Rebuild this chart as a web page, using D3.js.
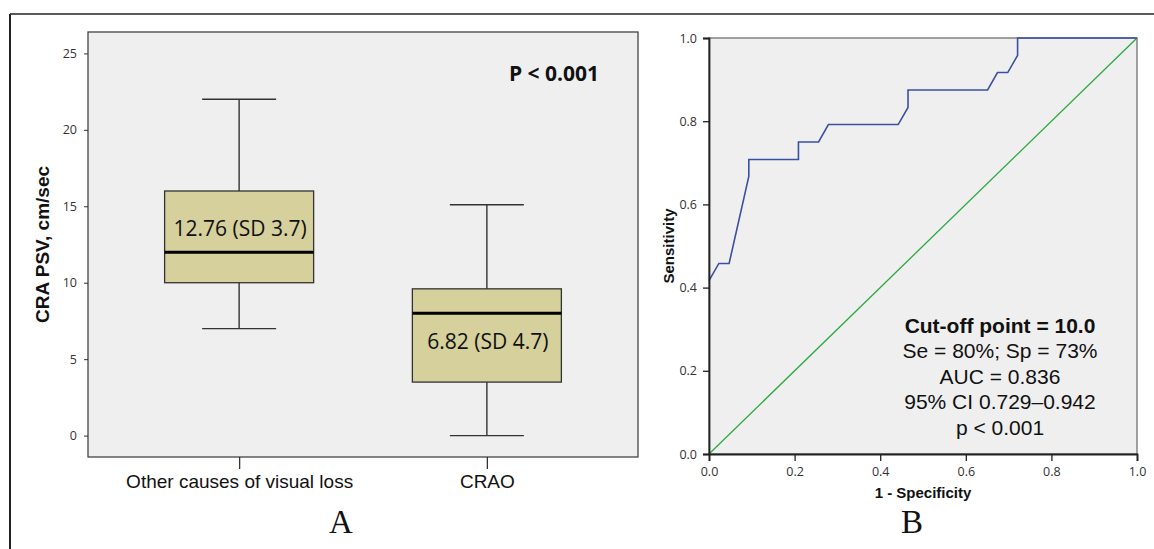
<!DOCTYPE html>
<html>
<head>
<meta charset="utf-8">
<script src="https://cdn.jsdelivr.net/npm/d3@7"></script>
<style>
  html, body { margin: 0; padding: 0; background: #fff; }
  svg { display: block; }
  .tick text { font-family: "Open Sans", sans-serif; font-size: 12.5px; fill: #333; }
</style>
</head>
<body>
<svg id="chart" width="1154" height="549"></svg>
<script>
// ---- data: panel A (box plot) ----
var groups = ['Other causes of visual loss', 'CRAO'];
var whiskerLow = [7, 0];
var q1 = [10, 3.5];
var median = [12, 8];
var q3 = [16, 9.6];
var whiskerHigh = [22, 15.1];
var boxLabels = ['12.76 (SD 3.7)', '6.82 (SD 4.7)'];
var boxTicks = [0, 5, 10, 15, 20, 25];

// ---- data: panel B (ROC) ----
var rocFpr  = [0, 0.023, 0.047, 0.093, 0.093, 0.209, 0.209, 0.256, 0.279, 0.442, 0.465, 0.465, 0.651, 0.674, 0.698, 0.721, 0.721, 1];
var rocSens = [0.417, 0.458, 0.458, 0.667, 0.708, 0.708, 0.75, 0.75, 0.792, 0.792, 0.833, 0.875, 0.875, 0.917, 0.917, 0.958, 1, 1];
var rocTicks = [0, 0.2, 0.4, 0.6, 0.8, 1.0];
var rocNotes = ['Cut-off point = 10.0', 'Se = 80%; Sp = 73%', 'AUC = 0.836', '95% CI 0.729\u20130.942', 'p < 0.001'];

var svg = d3.select('#chart');

// outer frame (top + left only visible)
svg.append('line').attr('x1', 10).attr('y1', 14).attr('x2', 1154).attr('y2', 14)
  .style('stroke', '#222').style('stroke-width', 1.5);
svg.append('line').attr('x1', 10).attr('y1', 14).attr('x2', 10).attr('y2', 549)
  .style('stroke', '#222').style('stroke-width', 2);

// ================= Panel A =================
var A = { left: 88, right: 638, top: 32, bottom: 457 };
var yA = d3.scaleLinear().domain([-1.4, 26.4]).range([A.bottom, A.top]);
var xA = d3.scalePoint().domain(groups).range([A.left, A.right]).padding(0.61);
var boxW = 149, capW = 74;
var labelNudge = [6.5, -5.7];

svg.append('rect')
  .attr('x', A.left).attr('y', A.top)
  .attr('width', A.right - A.left).attr('height', A.bottom - A.top)
  .style('fill', '#efefef').style('stroke', '#444').style('stroke-width', 1.3);

var yAxisA = svg.append('g')
  .attr('transform', 'translate(' + A.left + ',0)')
  .call(d3.axisLeft(yA).tickValues(boxTicks).tickSize(4).tickPadding(7));
yAxisA.select('.domain').remove();
yAxisA.selectAll('.tick line').style('stroke', '#333');

var xAxisA = svg.append('g')
  .attr('transform', 'translate(0,' + A.bottom + ')')
  .call(d3.axisBottom(xA).tickSize(12).tickPadding(6));
xAxisA.select('.domain').remove();
xAxisA.selectAll('.tick line').style('stroke', '#333').style('stroke-width', 1.3);
xAxisA.selectAll('.tick text')
  .style('font-family', '"Liberation Sans", Arial, sans-serif')
  .style('font-size', '19px').style('fill', '#111');

var boxes = svg.append('g').selectAll('g').data(groups).enter().append('g');

// whiskers
boxes.append('line')
  .attr('x1', function(d) { return xA(d); }).attr('x2', function(d) { return xA(d); })
  .attr('y1', function(d, i) { return yA(whiskerHigh[i]); })
  .attr('y2', function(d, i) { return yA(whiskerLow[i]); })
  .style('stroke', '#333').style('stroke-width', 1.4);
boxes.selectAll('.cap')
  .data(function(d, i) { return [{g: d, v: whiskerHigh[i]}, {g: d, v: whiskerLow[i]}]; })
  .enter().append('line').attr('class', 'cap')
  .attr('x1', function(d) { return xA(d.g) - capW / 2; })
  .attr('x2', function(d) { return xA(d.g) + capW / 2; })
  .attr('y1', function(d) { return yA(d.v); }).attr('y2', function(d) { return yA(d.v); })
  .style('stroke', '#333').style('stroke-width', 1.4);

// box
boxes.append('rect')
  .attr('x', function(d) { return xA(d) - boxW / 2; })
  .attr('width', boxW)
  .attr('y', function(d, i) { return yA(q3[i]); })
  .attr('height', function(d, i) { return yA(q1[i]) - yA(q3[i]); })
  .style('fill', '#d5d09c').style('stroke', '#333').style('stroke-width', 1.3);

// median
boxes.append('line')
  .attr('x1', function(d) { return xA(d) - boxW / 2; })
  .attr('x2', function(d) { return xA(d) + boxW / 2; })
  .attr('y1', function(d, i) { return yA(median[i]); })
  .attr('y2', function(d, i) { return yA(median[i]); })
  .style('stroke', '#000').style('stroke-width', 3);

// box labels (in the taller part of the box)
boxes.append('text')
  .attr('x', function(d) { return xA(d) + 1; })
  .attr('y', function(d, i) {
    var up = q3[i] - median[i], down = median[i] - q1[i];
    var mid = up > down ? (q3[i] + median[i]) / 2 : (median[i] + q1[i]) / 2;
    return yA(mid) + labelNudge[i] + 7.5;
  })
  .attr('text-anchor', 'middle')
  .style('font-family', '"Open Sans", sans-serif').style('font-size', '21px').style('fill', '#111')
  .text(function(d, i) { return boxLabels[i]; });

svg.append('text')
  .attr('x', 554).attr('y', 80.5).attr('text-anchor', 'middle')
  .style('font-family', '"Open Sans", sans-serif').style('font-weight', 'bold')
  .style('font-size', '21px').style('fill', '#111')
  .text('P < 0.001');

svg.append('text')
  .attr('transform', 'translate(49,' + (A.top + A.bottom) / 2 + ') rotate(-90)')
  .attr('text-anchor', 'middle')
  .style('font-family', '"Liberation Sans", Arial, sans-serif').style('font-weight', 'bold')
  .style('font-size', '19px').style('fill', '#111')
  .text('CRA PSV, cm/sec');

svg.append('text')
  .attr('x', 341).attr('y', 533).attr('text-anchor', 'middle')
  .style('font-family', '"Liberation Serif", "Times New Roman", serif')
  .style('font-size', '33px').style('fill', '#111')
  .text('A');

// ================= Panel B =================
var B = { left: 709, right: 1137, top: 38, bottom: 454 };
var xB = d3.scaleLinear().domain([0, 1]).range([B.left, B.right]);
var yB = d3.scaleLinear().domain([0, 1]).range([B.bottom, B.top]);

svg.append('rect')
  .attr('x', B.left).attr('y', B.top)
  .attr('width', B.right - B.left).attr('height', B.bottom - B.top)
  .style('fill', '#efefef').style('stroke', '#666').style('stroke-width', 1.2);

// reference diagonal
svg.append('line')
  .attr('x1', xB(0)).attr('y1', yB(0)).attr('x2', xB(1)).attr('y2', yB(1))
  .style('stroke', '#2aa93c').style('stroke-width', 1.3);

// ROC curve
var rocPts = rocFpr.map(function(f, i) { return [f, rocSens[i]]; });
svg.append('path')
  .datum(rocPts)
  .attr('d', d3.line().x(function(d) { return xB(d[0]); }).y(function(d) { return yB(d[1]); }))
  .style('fill', 'none').style('stroke', '#3b4fa3').style('stroke-width', 1.6);

var yAxisB = svg.append('g')
  .attr('transform', 'translate(' + B.left + ',0)')
  .call(d3.axisLeft(yB).tickValues(rocTicks).tickFormat(d3.format('.1f')).tickSize(6).tickPadding(6));
yAxisB.select('.domain').style('stroke', '#222').style('stroke-width', 1.8);
yAxisB.selectAll('.tick line').style('stroke', '#222').style('stroke-width', 1.3);

var xAxisB = svg.append('g')
  .attr('transform', 'translate(0,' + B.bottom + ')')
  .call(d3.axisBottom(xB).tickValues(rocTicks).tickFormat(d3.format('.1f')).tickSize(7).tickPadding(6));
xAxisB.select('.domain').style('stroke', '#222').style('stroke-width', 1.8);
xAxisB.selectAll('.tick line').style('stroke', '#222').style('stroke-width', 1.3);

svg.append('text')
  .attr('transform', 'translate(674,' + (B.top + B.bottom) / 2 + ') rotate(-90)')
  .attr('text-anchor', 'middle')
  .style('font-family', '"Liberation Sans", Arial, sans-serif').style('font-weight', 'bold')
  .style('font-size', '15px').style('fill', '#111')
  .text('Sensitivity');

svg.append('text')
  .attr('x', (B.left + B.right) / 2).attr('y', 498).attr('text-anchor', 'middle')
  .style('font-family', '"Liberation Sans", Arial, sans-serif').style('font-weight', 'bold')
  .style('font-size', '15px').style('fill', '#111')
  .text('1 - Specificity');

svg.append('g').selectAll('text').data(rocNotes).enter().append('text')
  .attr('x', 1000)
  .attr('y', function(d, i) { return 332.5 + i * 25.5; })
  .attr('text-anchor', 'middle')
  .style('font-family', '"Liberation Sans", Arial, sans-serif')
  .style('font-weight', function(d, i) { return i === 0 ? 'bold' : 'normal'; })
  .style('font-size', '21px').style('fill', '#111')
  .text(function(d) { return d; });

svg.append('text')
  .attr('x', 912).attr('y', 533).attr('text-anchor', 'middle')
  .style('font-family', '"Liberation Serif", "Times New Roman", serif')
  .style('font-size', '33px').style('fill', '#111')
  .text('B');
</script>
</body>
</html>
